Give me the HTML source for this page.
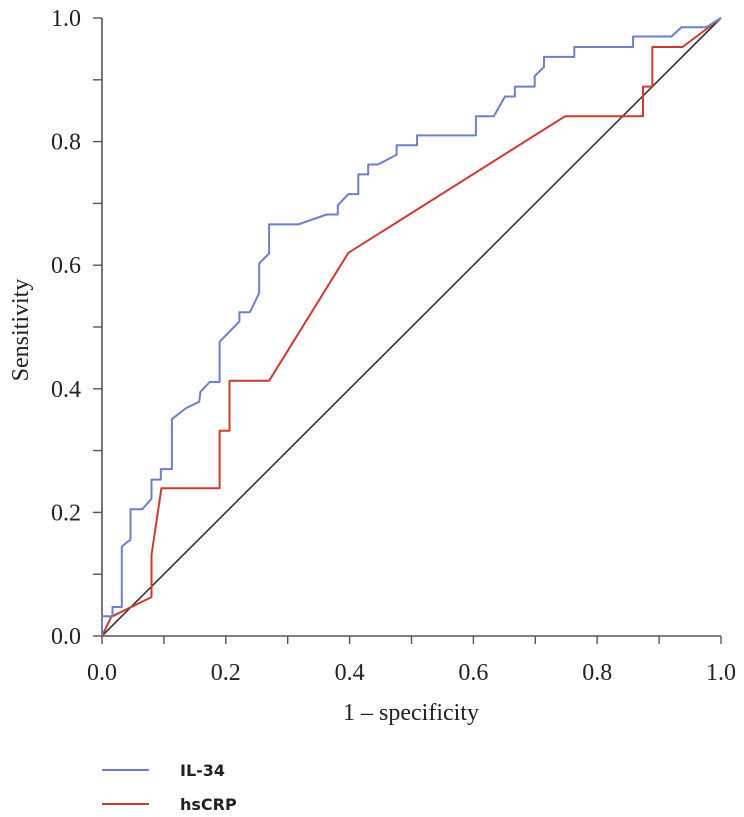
<!DOCTYPE html>
<html><head><meta charset="utf-8"><style>
html,body{margin:0;padding:0;background:#fff;}
svg{display:block;}
.tk{font-family:"Liberation Serif",serif;font-size:24px;fill:#222;}
.lg{font-family:"DejaVu Sans","Liberation Sans",sans-serif;font-size:16px;font-weight:bold;fill:#222;}
</style></head><body>
<svg id="chart" width="744" height="817" viewBox="0 0 744 817" xmlns="http://www.w3.org/2000/svg"></svg>
<script>
const xTicks = [0,0.2,0.4,0.6,0.8,1.0];
const yTicks = [0,0.2,0.4,0.6,0.8,1.0];
const tickLabels = ["0.0","0.2","0.4","0.6","0.8","1.0"];
const il34X = [0,0,0.017,0.017,0.032,0.032,0.046,0.046,0.065,0.080,0.080,0.095,0.095,0.113,0.113,0.136,0.157,0.159,0.174,0.190,0.190,0.222,0.222,0.239,0.254,0.254,0.270,0.270,0.317,0.363,0.381,0.381,0.398,0.414,0.414,0.430,0.430,0.446,0.476,0.476,0.509,0.509,0.604,0.604,0.633,0.651,0.667,0.667,0.699,0.699,0.714,0.714,0.763,0.763,0.858,0.858,0.920,0.936,0.976,1.0];
const il34Y = [0,0.032,0.032,0.047,0.047,0.145,0.156,0.205,0.205,0.222,0.253,0.253,0.270,0.270,0.351,0.369,0.379,0.395,0.411,0.411,0.476,0.509,0.524,0.524,0.555,0.603,0.619,0.666,0.666,0.682,0.682,0.697,0.715,0.715,0.747,0.747,0.763,0.763,0.779,0.794,0.794,0.810,0.810,0.841,0.841,0.873,0.873,0.889,0.889,0.906,0.921,0.937,0.937,0.953,0.953,0.970,0.970,0.985,0.985,1.0];
const crpX = [0,0.015,0.080,0.080,0.096,0.190,0.190,0.206,0.206,0.270,0.398,0.748,0.874,0.874,0.889,0.889,0.938,1.0];
const crpY = [0,0.031,0.063,0.131,0.239,0.239,0.332,0.332,0.413,0.413,0.620,0.841,0.841,0.889,0.889,0.953,0.953,1.0];

const NS="http://www.w3.org/2000/svg";
const svg=document.getElementById('chart');
const X0=102,X1=721,Y0=636,Y1=18;
function sx(v){return X0+(X1-X0)*v;}
function sy(v){return Y0-(Y0-Y1)*v;}
function mk(tag,attrs){const e=document.createElementNS(NS,tag);for(const k in attrs)e.setAttribute(k,attrs[k]);svg.appendChild(e);return e;}

let ax=mk('path',{d:`M${X0},${Y1}V${Y0}H${X1}`,fill:'none',stroke:'#555','stroke-width':1.6});


for(let i=0;i<=10;i++){
  const v=i/10;
  let t1=mk('line',{x1:sx(v),x2:sx(v),y1:Y0,y2:Y0+8,stroke:'#555','stroke-width':1.4});
  
  
  let t2=mk('line',{x1:X0-9,x2:X0,y1:sy(v),y2:sy(v),stroke:'#555','stroke-width':1.4});
  
  
}
xTicks.forEach((v,i)=>{
  const t=mk('text',{x:sx(v),y:Y0+44,'text-anchor':'middle',class:'tk'});
  t.textContent=tickLabels[i];
  
  
});
yTicks.forEach((v,i)=>{
  const t=mk('text',{x:81,y:sy(v)+8,'text-anchor':'end',class:'tk'});
  t.textContent=tickLabels[i];
  
  
});
let xt=mk('text',{x:411,y:720,'text-anchor':'middle',class:'tk'});
xt.textContent='1 – specificity';


let yt=mk('text',{x:0,y:0,'text-anchor':'middle',class:'tk',transform:'translate(28,330) rotate(-90)'});
yt.textContent='Sensitivity';



let dg=mk('line',{x1:sx(0),y1:sy(0),x2:sx(1),y2:sy(1),stroke:'#333','stroke-width':1.6});



function series(xs,ys,color,name){
  const d=xs.map((x,i)=>(i?'L':'M')+sx(x).toFixed(1)+','+sy(ys[i]).toFixed(1)).join('');
  const p=mk('path',{d:d,fill:'none',stroke:color,'stroke-width':2,'stroke-linejoin':'round'});
  
  
}
series(crpX,crpY,'#cc3b32','hscrp-curve');
series(il34X,il34Y,'#6b7fcc','il34-curve');

let l1=mk('line',{x1:102,x2:149,y1:770,y2:770,stroke:'#6b7fcc','stroke-width':2});


let lt1=mk('text',{x:180,y:776,class:'lg'});lt1.textContent='IL-34';


let l2=mk('line',{x1:102,x2:149,y1:804,y2:804,stroke:'#cc3b32','stroke-width':2});


let lt2=mk('text',{x:180,y:810,class:'lg'});lt2.textContent='hsCRP';


</script>
</body></html>
